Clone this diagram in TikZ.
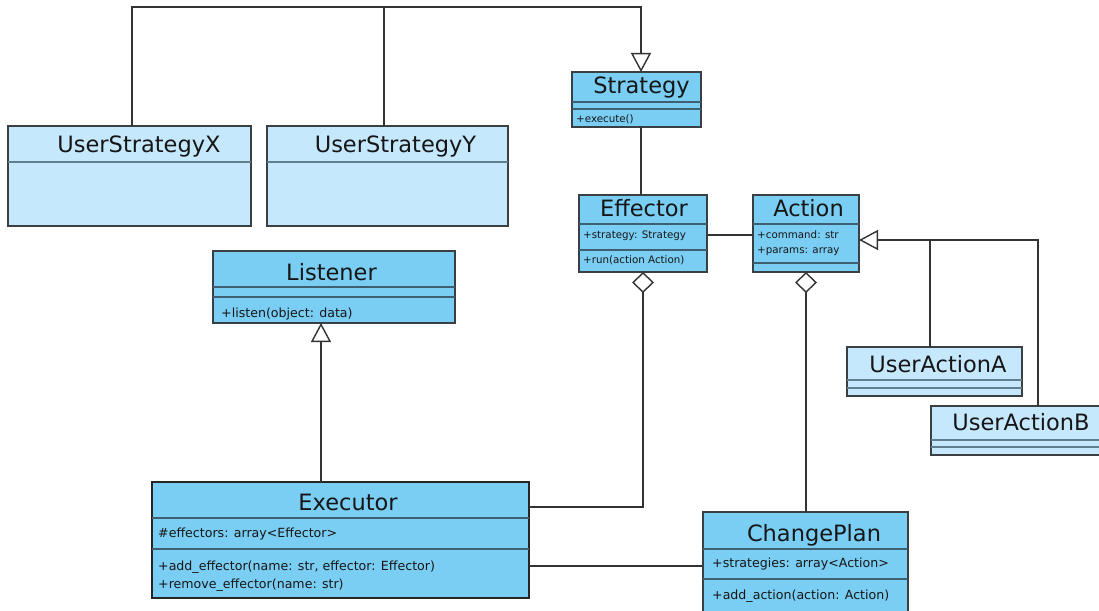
\documentclass[tikz,border=0pt]{standalone}
\usepackage{fontspec}
\setmainfont{DejaVu Sans}
\usetikzlibrary{arrows.meta}

\definecolor{mainfill}{HTML}{7ACEF4}
\definecolor{userfill}{HTML}{C6E8FD}
\definecolor{boxline}{HTML}{3A3F44}
\definecolor{sepline}{HTML}{3F5E70}
\definecolor{usersep}{HTML}{5F7E8E}
\definecolor{connline}{HTML}{333333}
\definecolor{ink}{HTML}{161616}

\newcommand{\titlefont}{\fontsize{22.5}{27}\selectfont}
\newcommand{\smallmember}{\fontsize{10.3}{12}\selectfont}
\newcommand{\member}{\fontsize{12.6}{15}\selectfont}

\tikzset{
  cls/.style={draw=boxline, line width=1.2pt, anchor=north west,
              inner sep=0pt, outer sep=0pt},
  mainbox/.style={cls, fill=mainfill},
  userbox/.style={cls, fill=userfill},
  sep/.style={draw=sepline, line width=1.3pt},
  usep/.style={draw=usersep, line width=1.3pt},
  title/.style={anchor=base, inner sep=0pt, font=\titlefont, text=ink},
  smem/.style={anchor=base west, inner sep=0pt, font=\smallmember, text=ink},
  mem/.style={anchor=base west, inner sep=0pt, font=\member, text=ink},
  conn/.style={draw=connline, line width=1.4pt},
  gen/.style={conn, -{Triangle[open, length=19pt, width=20pt, fill=white]}},
  agg/.style={conn, {Diamond[open, length=21pt, width=22pt, fill=white]}-},
}

\begin{document}
\begin{tikzpicture}[x=1pt, y=-1pt]
\useasboundingbox (0,0) rectangle (1099,610);

% ---------- classes ----------
% Strategy
\node[mainbox, minimum width=129pt, minimum height=55pt] (strategy) at (572,72) {};
\draw[sep] (strategy.west |- 0,102) -- (strategy.east |- 0,102);
\draw[sep] (strategy.west |- 0,109) -- (strategy.east |- 0,109);
\node[title] (strategyT) at (641.5,93) {Strategy};
\node[smem] (strategyM) at (576,122) {+execute()};

% Effector
\node[mainbox, minimum width=128pt, minimum height=77pt] (effector) at (579,195) {};
\draw[sep] (effector.west |- 0,224) -- (effector.east |- 0,224);
\draw[sep] (effector.west |- 0,250) -- (effector.east |- 0,250);
\node[title] (effectorT) at (644,216) {Effector};
\node[smem] (effectorA) at (583,238) {+strategy: Strategy};
\node[smem] (effectorM) at (583,263) {+run(action Action)};

% Action
\node[mainbox, minimum width=106pt, minimum height=77pt] (action) at (753,195) {};
\draw[sep] (action.west |- 0,224) -- (action.east |- 0,224);
\draw[sep] (action.west |- 0,263) -- (action.east |- 0,263);
\node[title] (actionT) at (808.5,216) {Action};
\node[smem] (actionA1) at (757,238) {+command: str};
\node[smem] (actionA2) at (757,253) {+params: array};

% UserStrategyX
\node[userbox, minimum width=243pt, minimum height=100pt] (usx) at (8,126) {};
\draw[usep] (usx.west |- 0,162) -- (usx.east |- 0,162);
\node[title] (usxT) at (139,152) {UserStrategyX};

% UserStrategyY
\node[userbox, minimum width=241pt, minimum height=100pt] (usy) at (267,126) {};
\draw[usep] (usy.west |- 0,162) -- (usy.east |- 0,162);
\node[title] (usyT) at (395.5,152) {UserStrategyY};

% Listener
\node[mainbox, minimum width=242pt, minimum height=72pt] (listener) at (213,251) {};
\draw[sep] (listener.west |- 0,287) -- (listener.east |- 0,287);
\draw[sep] (listener.west |- 0,297) -- (listener.east |- 0,297);
\node[title] (listenerT) at (331.5,280) {Listener};
\node[mem] (listenerM) at (221,317) {+listen(object: data)};

% Executor
\node[mainbox, draw=black!85, line width=2pt, minimum width=377pt, minimum height=116pt] (executor) at (152,482) {};
\draw[sep] (executor.west |- 0,518) -- (executor.east |- 0,518);
\draw[sep] (executor.west |- 0,549) -- (executor.east |- 0,549);
\node[title] (executorT) at (348,510) {Executor};
\node[mem] (executorA) at (158,537) {\#effectors: array<Effector>};
\node[mem] (executorM1) at (158,570) {+add\_effector(name: str, effector: Effector)};
\node[mem] (executorM2) at (158,588) {+remove\_effector(name: str)};

% ChangePlan
\node[mainbox, minimum width=205pt, minimum height=110pt] (changeplan) at (703,512) {};
\draw[sep] (changeplan.west |- 0,549) -- (changeplan.east |- 0,549);
\draw[sep] (changeplan.west |- 0,579) -- (changeplan.east |- 0,579);
\node[title] (changeplanT) at (814,541) {ChangePlan};
\node[mem] (changeplanA) at (712,567) {+strategies: array<Action>};
\node[mem] (changeplanM) at (712,599) {+add\_action(action: Action)};

% UserActionA
\node[userbox, minimum width=175pt, minimum height=49pt] (uaa) at (847,347) {};
\draw[usep] (uaa.west |- 0,380) -- (uaa.east |- 0,380);
\draw[usep] (uaa.west |- 0,388) -- (uaa.east |- 0,388);
\node[title] (uaaT) at (938,372) {UserActionA};

% UserActionB
\node[userbox, minimum width=180pt, minimum height=49pt] (uab) at (931,406) {};
\draw[usep] (uab.west |- 0,440) -- (uab.east |- 0,440);
\draw[usep] (uab.west |- 0,447) -- (uab.east |- 0,447);
\node[title] (uabT) at (1021,430) {UserActionB};

% ---------- connectors ----------
% strategies realise Strategy
\coordinate (hub) at (641,7);
\draw[gen] ([xshift=2.5pt]usx.north) |- (hub) -- ([xshift=4.5pt]strategy.north);
\draw[conn] ([xshift=-3.5pt]usy.north) -- ([xshift=-3.5pt]usy.north |- hub);

% Effector uses Strategy
\draw[conn] ([xshift=4.5pt]strategy.south) -- ([xshift=4.5pt]strategy.south |- effector.north);

% Effector -- Action
\draw[conn] ([yshift=-1.5pt]effector.east) -- ([yshift=-1.5pt]action.west);

% user actions specialise Action
\coordinate (genjoin) at (930,240);
\draw[gen] ([xshift=-4.5pt]uaa.north) |- ([yshift=-6.5pt]action.east);
\draw[conn] ([xshift=17pt]uab.north) |- (genjoin);

% aggregations
\draw[agg] (effector.south) |- ([yshift=33pt]executor.east);
\draw[agg] (action.south) -- (action.south |- changeplan.north);

% Executor specialises Listener
\draw[gen] ([xshift=-19.5pt]executor.north) -- ([xshift=-19.5pt]executor.north |- listener.south);

% Executor -- ChangePlan
\draw[conn] ([yshift=-26pt]executor.east) -- ([yshift=-26pt]executor.east -| changeplan.west);
\end{tikzpicture}
\end{document}
